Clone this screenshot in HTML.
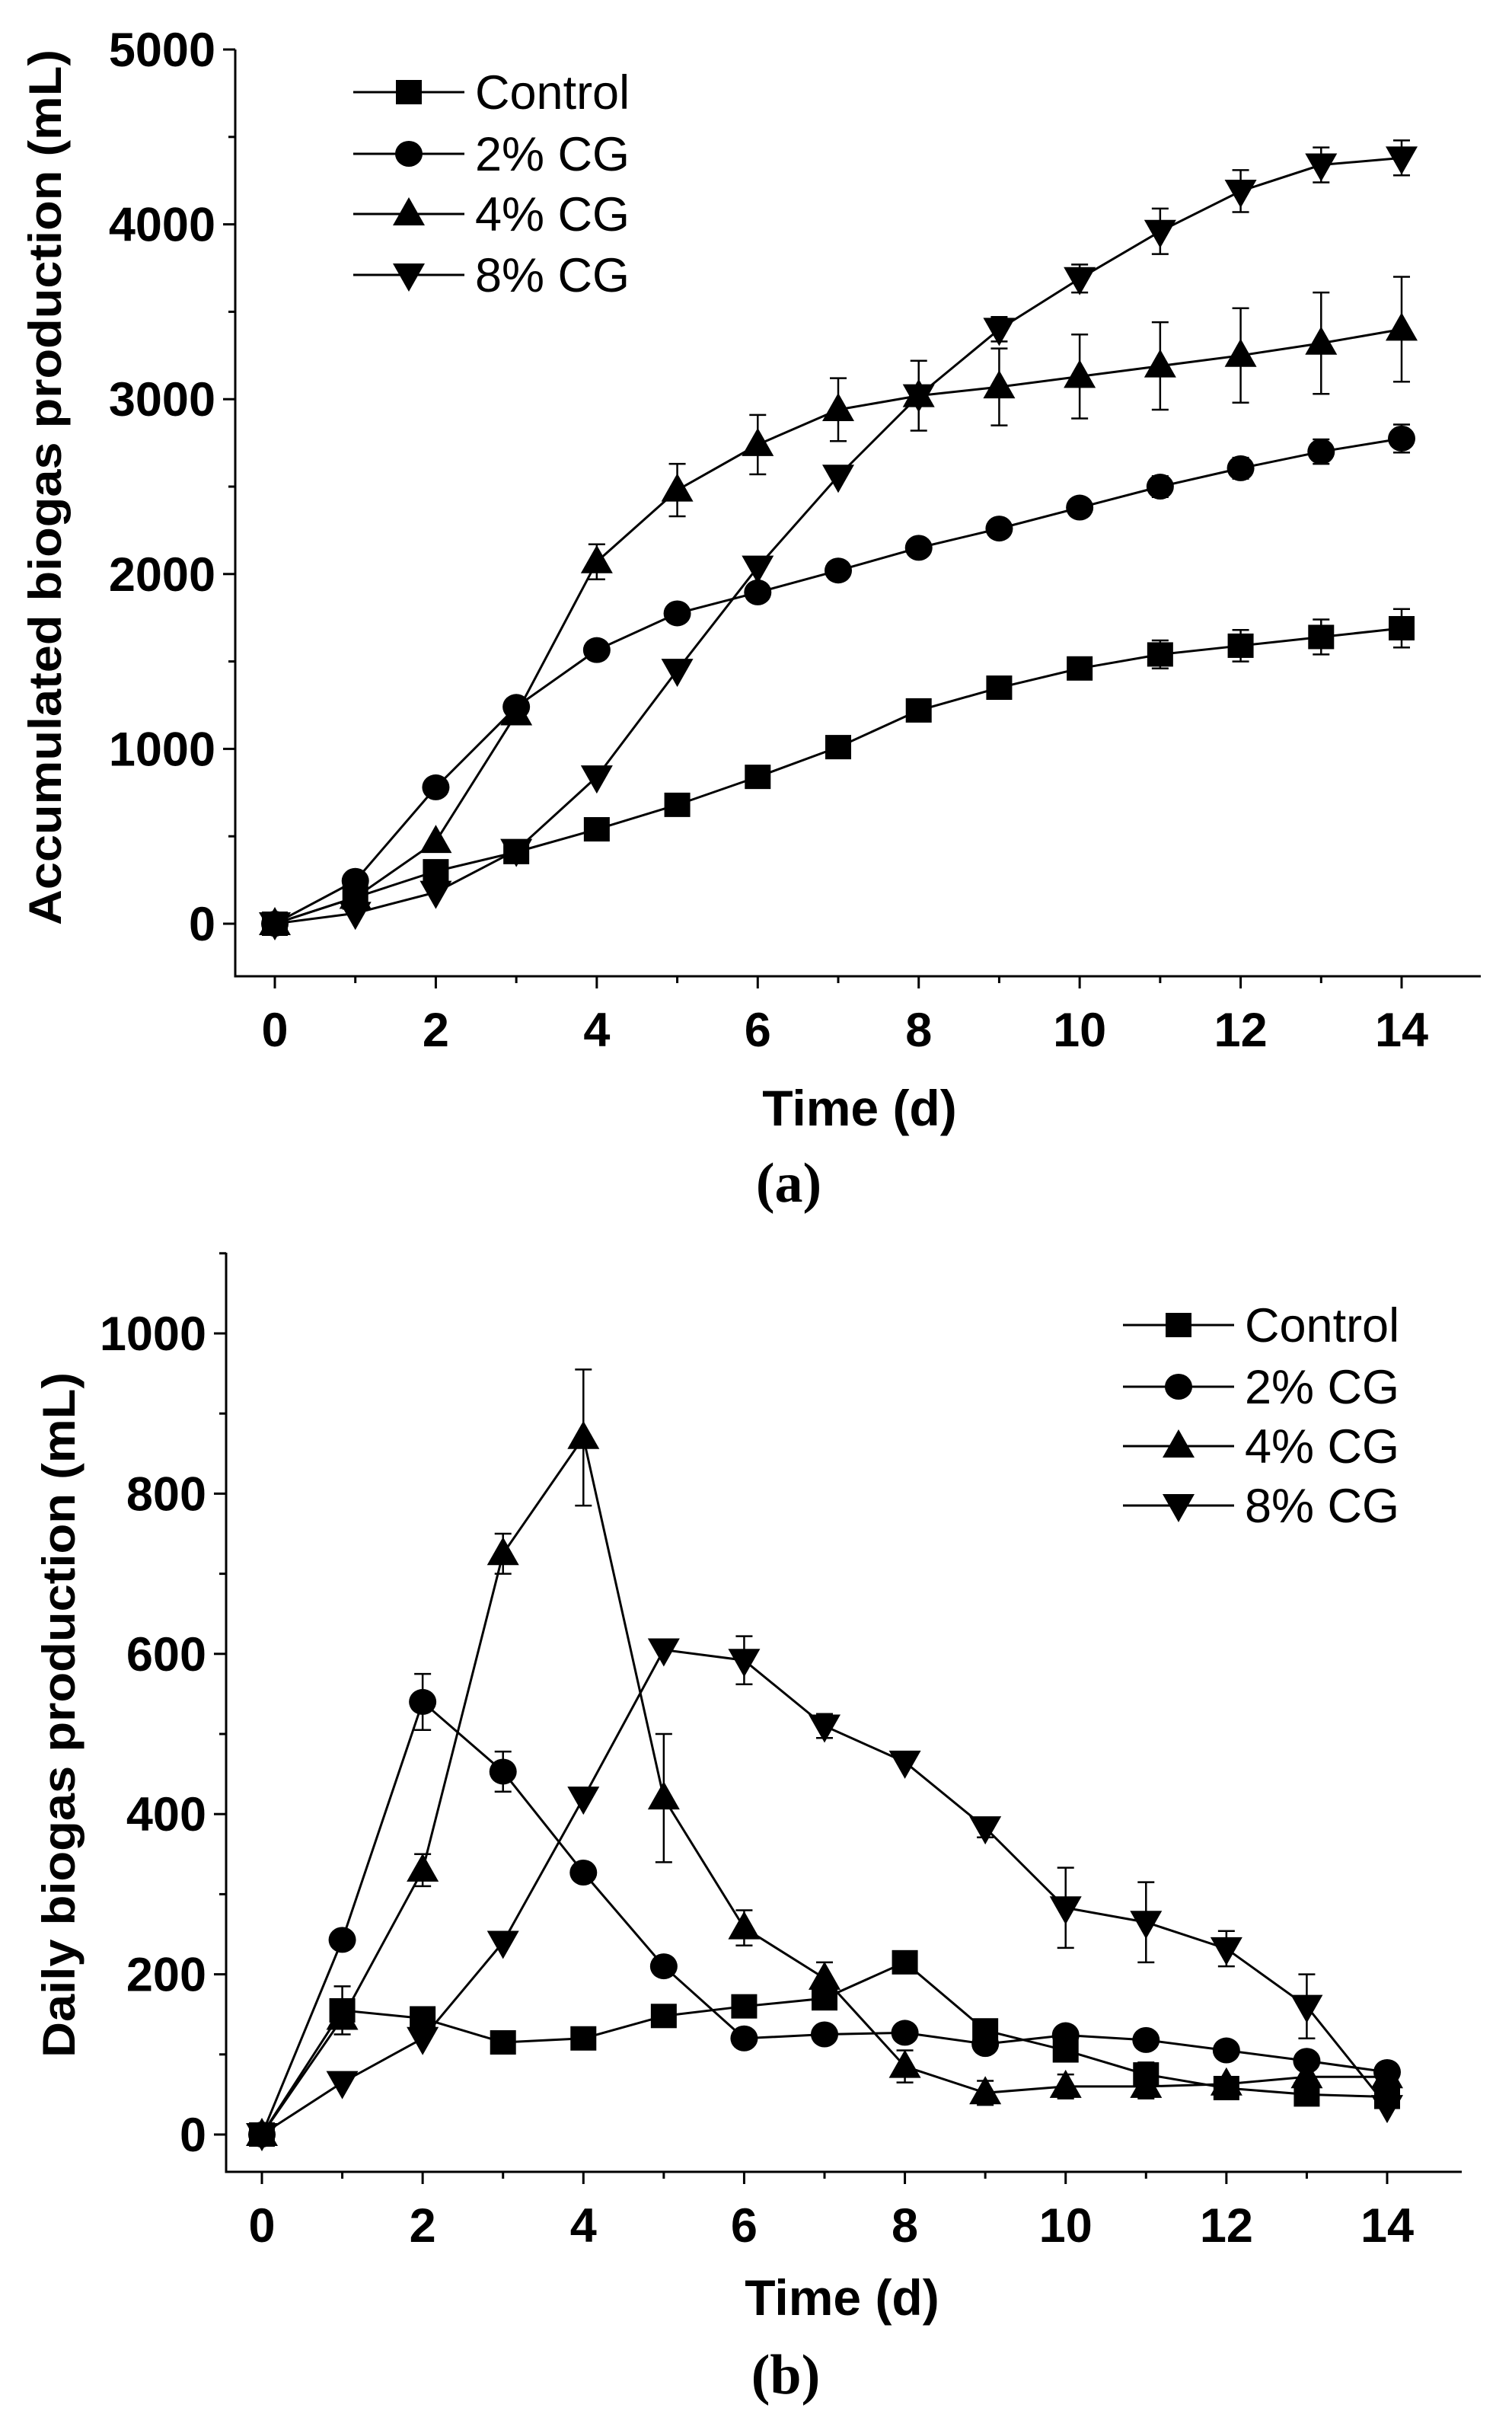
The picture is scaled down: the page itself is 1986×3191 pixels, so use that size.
<!DOCTYPE html>
<html><head><meta charset="utf-8">
<style>
html,body{margin:0;padding:0;background:#fff;}
svg{display:block;font-family:"Liberation Sans",sans-serif;}
</style></head>
<body>
<svg id="svg" width="1986" height="3191" viewBox="0 0 1986 3191"></svg>
<script>
// ---- data (days 0..14) ----
const days = [0,1,2,3,4,5,6,7,8,9,10,11,12,13,14];
const seriesNames = ["Control","2% CG","4% CG","8% CG"];
// Accumulated (a)
const accControl = [0,150,300,410,540,680,840,1010,1220,1350,1460,1540,1590,1640,1690];
const acc2 = [0,245,780,1240,1565,1775,1895,2020,2150,2260,2380,2500,2605,2700,2775];
const acc4 = [0,150,470,1200,2070,2480,2740,2940,3020,3070,3130,3190,3250,3320,3400];
const acc8 = [0,60,180,420,840,1450,2040,2560,3020,3400,3690,3960,4190,4340,4380];
const accErrControl = [0,0,0,0,0,0,0,0,0,0,0,80,90,100,110];
const accErr2 = [0,0,0,0,0,0,0,0,0,50,50,60,60,70,80];
const accErr4 = [0,0,0,0,100,150,170,180,200,220,240,250,270,290,300];
const accErr8 = [0,0,0,0,0,0,0,0,0,70,80,130,120,100,100];
const accTicks = [0,1000,2000,3000,4000,5000];
// Daily (b)
const dayControl = [0,155,145,115,120,148,160,170,215,130,105,75,58,50,47];
const day2 = [0,243,540,453,327,210,120,125,127,113,124,118,105,92,78];
const day4 = [0,145,330,725,870,420,258,195,85,52,60,60,63,72,72];
const day8 = [0,65,120,240,420,605,592,510,465,383,283,265,232,160,35];
const dayErrControl = [0,30,0,0,0,0,0,0,0,0,0,15,0,0,0];
const dayErr2 = [0,0,35,25,0,0,0,0,0,0,0,0,0,0,0];
const dayErr4 = [0,0,20,25,85,80,22,20,20,15,15,15,0,0,0];
const dayErr8 = [0,0,0,0,0,0,30,15,0,12,50,50,22,40,0];
const dayTicks = [0,200,400,600,800,1000];
const xTicks = [0,2,4,6,8,10,12,14];

const NS="http://www.w3.org/2000/svg";
const svg=document.getElementById('svg');
function mk(tag,attrs,parent){const e=document.createElementNS(NS,tag);for(const k in attrs)e.setAttribute(k,attrs[k]);(parent||svg).appendChild(e);return e;}

function marker(g,kind,cx,cy){
  let e;
  if(kind===0){e=mk('rect',{x:cx-17,y:cy-16,width:34,height:32,fill:'#000'},g);}
  else if(kind===1){e=mk('ellipse',{cx:cx,cy:cy,rx:18,ry:17,fill:'#000'},g);}
  else if(kind===2){e=mk('polygon',{points:`${cx},${cy-22} ${cx-21},${cy+15} ${cx+21},${cy+15}`,fill:'#000'},g);}
  else {e=mk('polygon',{points:`${cx},${cy+22} ${cx-21},${cy-15} ${cx+21},${cy-15}`,fill:'#000'},g);}
  return e;
}

function chart(cfg){
  const g=mk('g',{});
  
  
  const X=d=>cfg.x0+(cfg.x14-cfg.x0)*d/14;
  const Y=v=>cfg.y0+(cfg.yTop-cfg.y0)*v/cfg.vTop;
  const ax=mk('path',{d:`M${cfg.axX},${cfg.axTop} V${cfg.axY} H${cfg.axRight}`,stroke:'#000','stroke-width':3,fill:'none'},g);
  
  
  for(let d=0;d<=14;d++){
    mk('line',{x1:X(d),x2:X(d),y1:cfg.axY,y2:cfg.axY+(d%2===0?16:9),stroke:'#000','stroke-width':3},g);
  }
  for(const d of xTicks){
    const t=mk('text',{x:X(d),y:cfg.axY+92,'text-anchor':'middle','font-size':63,'font-weight':'bold'},g);
    t.textContent=d;
    
    
  }
  const step=cfg.vTop/5/2;
  for(let v=0;Y(v)>=cfg.axTop-1;v+=step){
    const major=Math.round(v/step)%2===0;
    mk('line',{x1:cfg.axX,x2:cfg.axX-(major?16:9),y1:Y(v),y2:Y(v),stroke:'#000','stroke-width':3},g);
  }
  for(const v of cfg.ticks){
    const t=mk('text',{x:cfg.axX-26,y:Y(v)+22,'text-anchor':'end','font-size':63,'font-weight':'bold'},g);
    t.textContent=v;
    
    
  }
  const yt=mk('text',{x:0,y:0,transform:`translate(${cfg.ytX},${cfg.ytY}) rotate(-90)`,'text-anchor':'middle','font-size':60,'font-weight':'bold',textLength:cfg.ytLen,lengthAdjust:'spacingAndGlyphs'},g);
  yt.textContent=cfg.ytitle;
  
  
  const xt=mk('text',{x:cfg.xtX,y:cfg.xtY,'text-anchor':'middle','font-size':66,'font-weight':'bold'},g);
  xt.textContent='Time (d)';
  
  
  const pl=mk('text',{x:cfg.plX,y:cfg.plY,'text-anchor':'middle','font-size':74,'font-weight':'bold','font-family':'Liberation Serif, serif'},g);
  pl.textContent=cfg.panel;
  
  
  cfg.series.forEach((s,i)=>{
    const sg=mk('g',{},g);
    
    
    const err=cfg.errs[i];
    days.forEach((d,k)=>{
      if(err[k]>0){
        const x=X(d),y1=Y(s[k]-err[k]),y2=Y(s[k]+err[k]);
        const eb=mk('path',{d:`M${x},${y1} V${y2} M${x-11},${y1} H${x+11} M${x-11},${y2} H${x+11}`,stroke:'#000','stroke-width':2.5,fill:'none'},sg);
        
        
      }
    });
    const ln=mk('polyline',{points:days.map((d,k)=>X(d)+','+Y(s[k])).join(' '),stroke:'#000','stroke-width':3,fill:'none'},sg);
    
    
    days.forEach((d,k)=>{
      const m=marker(sg,i,X(d),Y(s[k]));
      
      
    });
  });
  const lg=mk('g',{},g);
  
  
  seriesNames.forEach((n,i)=>{
    const y=cfg.legY[i];
    const eg=mk('g',{},lg);
    
    
    mk('line',{x1:cfg.legX1,x2:cfg.legX2,y1:y,y2:y,stroke:'#000','stroke-width':3},eg);
    marker(eg,i,(cfg.legX1+cfg.legX2)/2,y);
    const t=mk('text',{x:cfg.legX2+14,y:y+22,'font-size':63},eg);
    t.textContent=n;
  });
}

chart({name:'chart-accumulated',panel:'(a)',x0:361,x14:1841,y0:1213,yTop:65,vTop:5000,
  axX:309,axTop:65,axY:1282,axRight:1945,ticks:accTicks,
  ytitle:'Accumulated biogas production (mL)',ytX:80,ytY:640,ytLen:1150,
  xtX:1129,xtY:1478,plX:1036,plY:1578,
  series:[accControl,acc2,acc4,acc8],errs:[accErrControl,accErr2,accErr4,accErr8],
  legX1:464,legX2:610,legY:[121,202,281,361]});

chart({name:'chart-daily',panel:'(b)',x0:344,x14:1822,y0:2803,yTop:1751,vTop:1000,
  axX:297,axTop:1645,axY:2852,axRight:1920,ticks:dayTicks,
  ytitle:'Daily biogas production (mL)',ytX:98,ytY:2252,ytLen:900,
  xtX:1106,xtY:3040,plX:1032,plY:3143,
  series:[dayControl,day2,day4,day8],errs:[dayErrControl,dayErr2,dayErr4,dayErr8],
  legX1:1475,legX2:1621,legY:[1740,1821,1899,1977]});
</script>
</body></html>
